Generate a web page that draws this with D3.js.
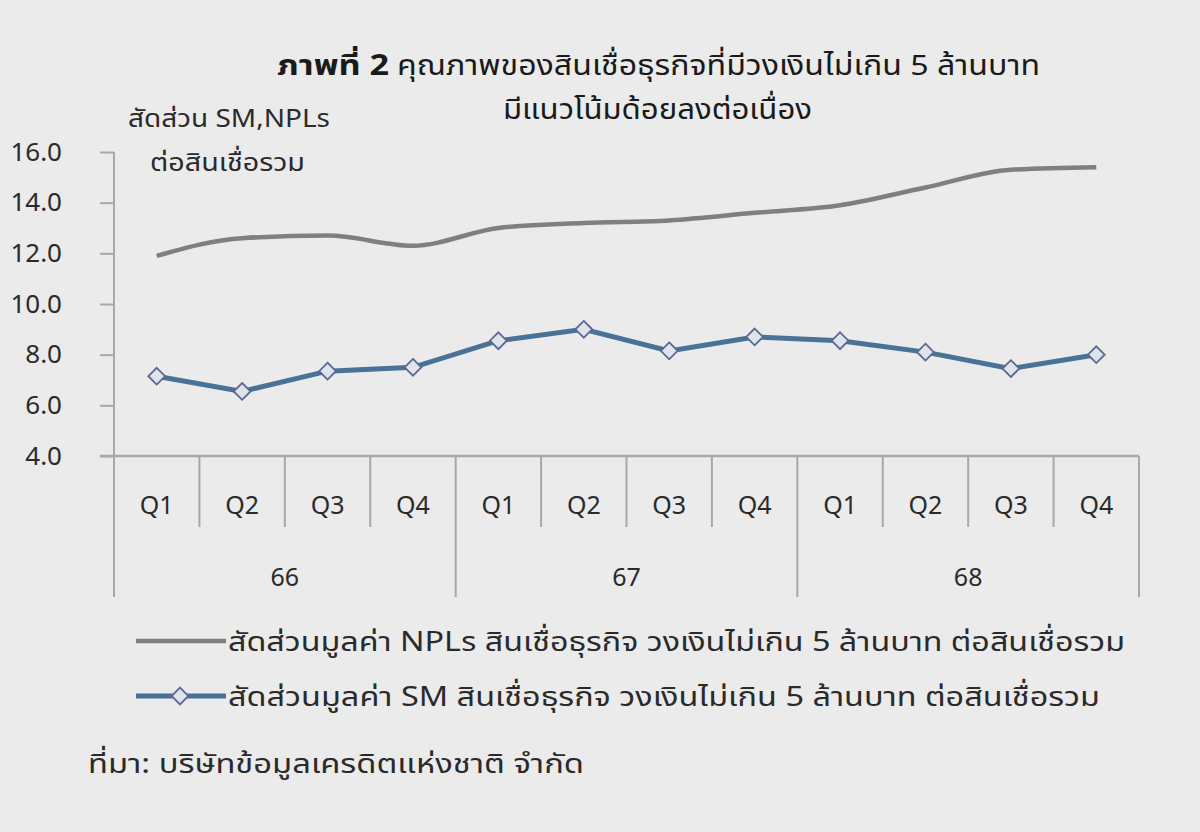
<!DOCTYPE html>
<html>
<head>
<meta charset="utf-8">
<script src="https://cdn.jsdelivr.net/npm/d3@7"></script>
<style>
  body { margin: 0; background: #ebebeb; }
  svg { display: block; font-family: "Noto Sans", "Noto Sans Thai", "Open Sans", sans-serif; }
</style>
</head>
<body>
<div id="chart"></div>
<script>
var svgWidth = 1200;
var svgHeight = 832;

// data
var quarters = ["Q1", "Q2", "Q3", "Q4", "Q1", "Q2", "Q3", "Q4", "Q1", "Q2", "Q3", "Q4"];
var years = ["66", "67", "68"];
var nplValues = [11.9, 12.6, 12.7, 12.3, 13.0, 13.2, 13.3, 13.6, 13.9, 14.6, 15.3, 15.4];
var smValues = [7.15, 6.55, 7.35, 7.5, 8.55, 9.0, 8.15, 8.7, 8.55, 8.1, 7.45, 8.0];
var yTicks = [4, 6, 8, 10, 12, 14, 16];

var nplLabel = "สัดส่วนมูลค่า NPLs สินเชื่อธุรกิจ วงเงินไม่เกิน 5 ล้านบาท ต่อสินเชื่อรวม";
var smLabel = "สัดส่วนมูลค่า SM สินเชื่อธุรกิจ วงเงินไม่เกิน 5 ล้านบาท ต่อสินเชื่อรวม";

var chartMargin = { top: 152, left: 114, right: 61, bottom: 376 };
var width = svgWidth - chartMargin.left - chartMargin.right;
var height = svgHeight - chartMargin.top - chartMargin.bottom;

var svg = d3.select("#chart")
    .append("svg")
    .attr("width", svgWidth)
    .attr("height", svgHeight);

svg.append("rect")
    .attr("width", svgWidth)
    .attr("height", svgHeight)
    .attr("fill", "#ebebeb");

var chartGroup = svg.append("g")
    .attr("transform", `translate(${chartMargin.left}, ${chartMargin.top})`);

var idx = d3.range(quarters.length);

var xScale = d3.scaleBand()
    .domain(idx)
    .range([0, width]);

var yScale = d3.scaleLinear()
    .domain([4, 16])
    .range([height, 0]);

var axisColor = "#a8a8a8";
var textColor = "#2a2a2a";

// y axis
var leftAxis = d3.axisLeft(yScale)
    .tickValues(yTicks)
    .tickFormat(d3.format(".1f"))
    .tickSize(14)
    .tickPadding(38);

var yAxis = chartGroup.append("g").call(leftAxis);
yAxis.select(".domain").attr("stroke", axisColor).attr("stroke-width", 2).attr("d", `M0,0V${height}`);
yAxis.selectAll(".tick line").attr("stroke", axisColor).attr("stroke-width", 2);
yAxis.selectAll(".tick text")
    .attr("fill", textColor)
    .attr("font-size", 26)
    .attr("font-family", "Noto Sans, sans-serif");

// x axis baseline
chartGroup.append("line")
    .attr("x1", -14).attr("x2", width)
    .attr("y1", height).attr("y2", height)
    .attr("stroke", axisColor).attr("stroke-width", 2.5);

// quarter separators and labels
var xAxisGroup = chartGroup.append("g").attr("transform", `translate(0, ${height})`);
xAxisGroup.selectAll(".qsep")
    .data(d3.range(quarters.length + 1))
    .enter().append("line")
    .attr("x1", d => d * xScale.bandwidth())
    .attr("x2", d => d * xScale.bandwidth())
    .attr("y1", 0)
    .attr("y2", d => (d % 4 === 0) ? 141 : 71)
    .attr("stroke", axisColor)
    .attr("stroke-width", 2);

xAxisGroup.selectAll(".qlabel")
    .data(idx)
    .enter().append("text")
    .attr("x", d => xScale(d) + xScale.bandwidth() / 2)
    .attr("y", 58)
    .attr("text-anchor", "middle")
    .attr("font-size", 25)
    .attr("fill", textColor)
    .text(d => quarters[d]);

xAxisGroup.selectAll(".ylabel")
    .data(years)
    .enter().append("text")
    .attr("x", (d, i) => xScale(i * 4) + xScale.bandwidth() * 2)
    .attr("y", 130)
    .attr("text-anchor", "middle")
    .attr("font-size", 25)
    .attr("fill", textColor)
    .text(d => d);

// lines
var nplLine = d3.line()
    .x(d => xScale(d) + xScale.bandwidth() / 2)
    .y(d => yScale(nplValues[d]))
    .curve(d3.curveMonotoneX);

var smLine = d3.line()
    .x(d => xScale(d) + xScale.bandwidth() / 2)
    .y(d => yScale(smValues[d]));

chartGroup.append("path")
    .attr("d", nplLine(idx))
    .attr("fill", "none")
    .attr("stroke", "#7f7f7f")
    .attr("stroke-width", 4.5);

chartGroup.append("path")
    .attr("d", smLine(idx))
    .attr("fill", "none")
    .attr("stroke", "#4a7196")
    .attr("stroke-width", 5);

var diamond = d3.symbol().type(d3.symbolDiamond2).size(180);

chartGroup.selectAll(".smMarker")
    .data(idx)
    .enter().append("path")
    .attr("d", diamond)
    .attr("transform", d => `translate(${xScale(d) + xScale.bandwidth() / 2}, ${yScale(smValues[d])})`)
    .attr("fill", "#dfe3ea")
    .attr("stroke", "#5b6796")
    .attr("stroke-width", 1.8);

// helper: text stretched to the width seen in the picture
function fitText(sel, w) {
    return sel.attr("textLength", w).attr("lengthAdjust", "spacingAndGlyphs");
}

// title
var title = svg.append("text")
    .attr("x", 277)
    .attr("y", 75)
    .attr("font-size", 28)
    .attr("fill", "#1a1a1a");
fitText(title.append("tspan").attr("font-weight", "bold").text("ภาพที่ 2"), 112);
fitText(title.append("tspan").attr("x", 397).text("คุณภาพของสินเชื่อธุรกิจที่มีวงเงินไม่เกิน 5 ล้านบาท"), 643);

fitText(svg.append("text")
    .attr("x", 503)
    .attr("y", 119)
    .attr("font-size", 28)
    .attr("fill", "#1a1a1a")
    .text("มีแนวโน้มด้อยลงต่อเนื่อง"), 309);

// y axis title
fitText(svg.append("text")
    .attr("x", 128)
    .attr("y", 127)
    .attr("font-size", 25)
    .attr("fill", textColor)
    .text("สัดส่วน SM,NPLs"), 202);

fitText(svg.append("text")
    .attr("x", 150)
    .attr("y", 171)
    .attr("font-size", 25)
    .attr("fill", textColor)
    .text("ต่อสินเชื่อรวม"), 155);

// legend
var legend = svg.append("g");
legend.append("line")
    .attr("x1", 136).attr("x2", 226)
    .attr("y1", 641).attr("y2", 641)
    .attr("stroke", "#7f7f7f").attr("stroke-width", 4.5);
fitText(legend.append("text")
    .attr("x", 228).attr("y", 651)
    .attr("font-size", 27).attr("fill", textColor)
    .text(nplLabel), 897);

legend.append("line")
    .attr("x1", 136).attr("x2", 226)
    .attr("y1", 696).attr("y2", 696)
    .attr("stroke", "#4a7196").attr("stroke-width", 5);
legend.append("path")
    .attr("d", diamond)
    .attr("transform", "translate(180, 696)")
    .attr("fill", "#dfe3ea")
    .attr("stroke", "#5b6796")
    .attr("stroke-width", 1.8);
fitText(legend.append("text")
    .attr("x", 228).attr("y", 706)
    .attr("font-size", 27).attr("fill", textColor)
    .text(smLabel), 872);

// source
fitText(svg.append("text")
    .attr("x", 88).attr("y", 773)
    .attr("font-size", 27).attr("fill", textColor)
    .text("ที่มา: บริษัทข้อมูลเครดิตแห่งชาติ จำกัด"), 496);
</script>
</body>
</html>
